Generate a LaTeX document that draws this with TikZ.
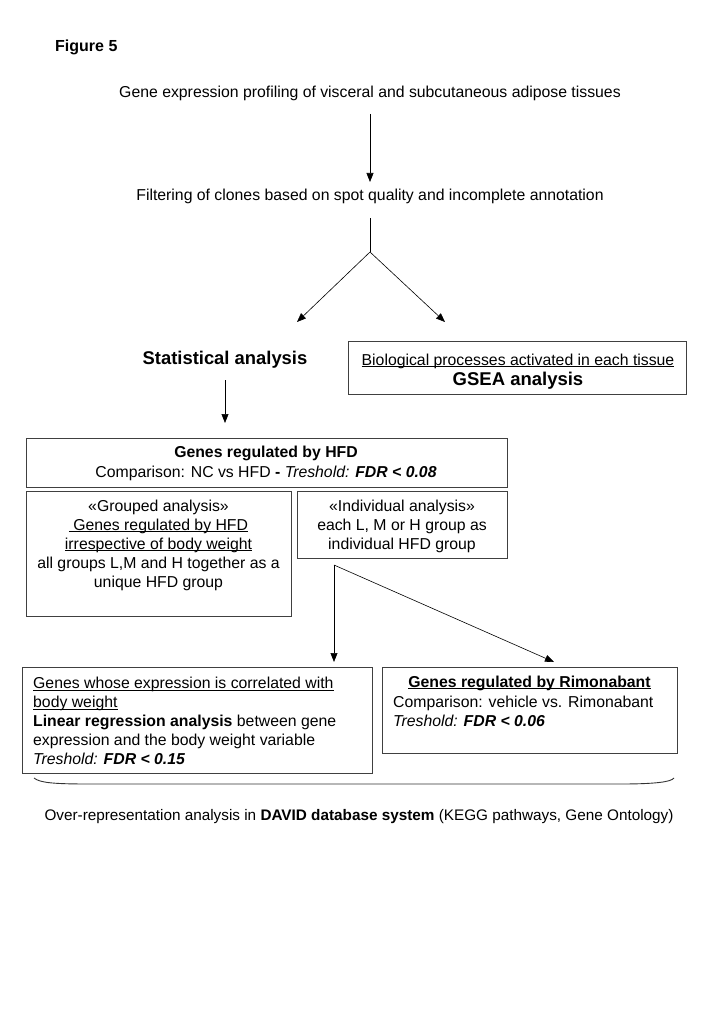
\documentclass[tikz,border=0pt]{standalone}
\usepackage{fontspec}
\setmainfont{Liberation Sans}
\usetikzlibrary{arrows.meta,calc}
\newcommand\ulin[1]{\setbox0\hbox{#1}\rlap{\rule[-2pt]{\wd0}{0.6pt}}\box0}
\begin{document}
\begin{tikzpicture}[x=1pt,y=-1pt,
 every node/.style={font=\fontsize{15.8}{19}\selectfont, inner sep=0pt},
 box/.style={draw=black!75, line width=0.9pt, rectangle, inner sep=0pt, anchor=north west},
 arr/.style={-{Triangle[length=9pt,width=7pt]}, line width=0.6pt},
 ln/.style={line width=0.6pt}]
\useasboundingbox (0,0) rectangle (715,1019);

\node (fig) [anchor=west, font=\bfseries\fontsize{16}{19}\selectfont] at (55,47) {Figure 5};
\node (t1) at (370,93) {Gene expression profiling of visceral and subcutaneous adipose tissues};
\node (t2) at (370,196) {Filtering of clones based on spot quality and incomplete annotation};
\draw[arr] ($(t1.center)+(0,21)$) -- ($(t2.center)+(0,-14)$);

\coordinate (sp) at (370,252);
\coordinate (la) at (297,322);
\coordinate (ra) at (445,322);
\draw[ln] ($(t2.center)+(0,22)$) -- (sp);
\draw[arr] (sp) -- (la);
\draw[arr] (sp) -- (ra);

\node (stat) [font=\bfseries\fontsize{18.4}{21}\selectfont] at (225,360) {Statistical analysis};

\node[box, minimum width=338pt, minimum height=53pt] (gseabox) at (348,341) {};
\node (gsea1) at (518,361) {\ulin{Biological processes activated in each tissue}};
\node (gsea2) [font=\bfseries\fontsize{18.5}{21}\selectfont] at (518,381) {GSEA analysis};

\node[box, minimum width=481pt, minimum height=49pt] (hfd) at (26,438) {};
\node (hfd1) [font=\bfseries\fontsize{15.8}{19}\selectfont] at (266,453) {Genes regulated by HFD};
\node (hfd2) at (266,473) {Comparison: NC vs HFD \textbf{-} \textit{Treshold:} \textbf{\textit{FDR < 0.08}}};
\draw[arr] ($(stat.center)+(0,20)$) -- ($(stat.center |- hfd.north)+(0,-15)$);

\node[box, minimum width=265pt, minimum height=125pt] (grp) at (26,491) {};
\node (grpt) [align=center] at (158.5,545) {«Grouped analysis»\\\ulin{ Genes regulated by HFD}\\\ulin{irrespective of body weight}\\all groups L,M and H together as a\\unique HFD group};

\node[box, minimum width=210pt, minimum height=67pt] (ind) at (297,491) {};
\node (indt) [align=center] at (402,526) {«Individual analysis»\\each L, M or H group as\\individual HFD group};

\node[box, minimum width=350pt, minimum height=106pt] (cor) at (22,667) {};
\node (cort) [align=left, anchor=west] at (33,720.5) {\ulin{Genes whose expression is correlated with}\\\ulin{body weight}\\\textbf{Linear regression analysis} between gene\\expression and the body weight variable\\\textit{Treshold:} \textbf{\textit{FDR < 0.15}}};

\node[box, minimum width=295pt, minimum height=86pt] (rim) at (382,667) {};
\node (rim1) [font=\bfseries\fontsize{15.8}{19}\selectfont] at (529.5,683) {\ulin{Genes regulated by Rimonabant}};
\node (rim2) [align=left, anchor=west] at (393,711.5) {Comparison: vehicle vs. Rimonabant\\\textit{Treshold:} \textbf{\textit{FDR < 0.06}}};

\coordinate (sp2) at (334,565);
\coordinate (ca) at (334,662);
\coordinate (ra2) at (554,662);
\draw[arr] (sp2) -- (ca);
\draw[arr] (sp2) -- (ra2);

\draw[line width=0.9pt, black!80] (34,778) .. controls (40,783) and (55,784) .. (90,784) -- (620,784) .. controls (655,784) and (671,782) .. (674,778);

\node (final) [font=\fontsize{15.3}{19}\selectfont] at (359,817) {Over-representation analysis in \textbf{DAVID database system} (KEGG pathways, Gene Ontology)};
\end{tikzpicture}
\end{document}
